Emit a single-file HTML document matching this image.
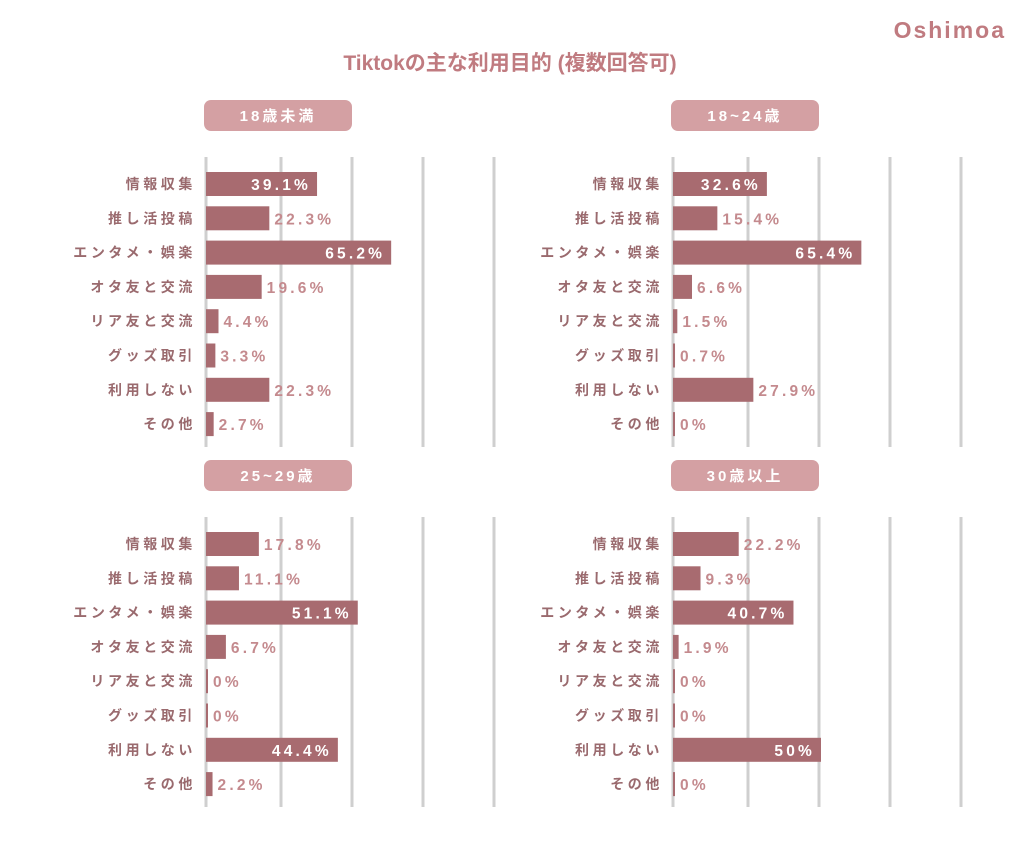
<!DOCTYPE html>
<html><head><meta charset="utf-8"><style>
body{margin:0;background:#fff;width:1024px;height:836px;overflow:hidden;font-family:"Liberation Sans","Noto Sans CJK JP",sans-serif}
</style></head><body>
<svg id="c" width="1024" height="836" xmlns="http://www.w3.org/2000/svg">
<text x="1006" y="38" text-anchor="end" font-size="23" font-weight="bold" fill="#c07b80" letter-spacing="2" font-family="Liberation Sans, sans-serif">Oshimoa</text>
<text x="510" y="70" text-anchor="middle" font-size="21" font-weight="bold" fill="#c07b80" font-family="Liberation Sans, Noto Sans CJK JP, sans-serif">Tiktokの主な利用目的 (複数回答可)</text>
</svg>
<script>
const categories=["情報収集","推し活投稿","エンタメ・娯楽","オタ友と交流","リア友と交流","グッズ取引","利用しない","その他"];
const panelTitles=["18歳未満","18~24歳","25~29歳","30歳以上"];
const values18u=[39.1,22.3,65.2,19.6,4.4,3.3,22.3,2.7];
const values1824=[32.6,15.4,65.4,6.6,1.5,0.7,27.9,0];
const values2529=[17.8,11.1,51.1,6.7,0,0,44.4,2.2];
const values30p=[22.2,9.3,40.7,1.9,0,0,50,0];
const valueLabels18u=["39.1%","22.3%","65.2%","19.6%","4.4%","3.3%","22.3%","2.7%"];
const valueLabels1824=["32.6%","15.4%","65.4%","6.6%","1.5%","0.7%","27.9%","0%"];
const valueLabels2529=["17.8%","11.1%","51.1%","6.7%","0%","0%","44.4%","2.2%"];
const valueLabels30p=["22.2%","9.3%","40.7%","1.9%","0%","0%","50%","0%"];
const gridTicks=[0,25,50,75,100];
const svg=document.getElementById('c');const NS='http://www.w3.org/2000/svg';
function mk(t,a){const e=document.createElementNS(NS,t);for(const k in a)e.setAttribute(k,a[k]);svg.appendChild(e);return e;}
const panels=[{ox:0,oy:0,v:values18u,l:valueLabels18u,s:2.84},{ox:467,oy:0,v:values1824,l:valueLabels1824,s:2.88},{ox:0,oy:360,v:values2529,l:valueLabels2529,s:2.97},{ox:467,oy:360,v:values30p,l:valueLabels30p,s:2.96}];
const gridX=[206,281,352,423,494];
panels.forEach((p,pi)=>{
  const x0=206+p.ox, y0=p.oy;
  const pill=mk('rect',{x:204+p.ox,y:100+y0,width:148,height:31,rx:7,fill:'#d4a0a3'});
  
  
  const pt=mk('text',{x:278+p.ox,y:121+y0,'text-anchor':'middle','font-size':15,'font-weight':'bold',fill:'#fff','letter-spacing':3});
  pt.textContent=panelTitles[pi];
  
  
  gridTicks.forEach((t,i)=>{
    const g=mk('line',{x1:gridX[i]+p.ox,x2:gridX[i]+p.ox,y1:157+y0,y2:447+y0,stroke:'#cfcfcf','stroke-width':3});
    
    
  });
  categories.forEach((c,i)=>{
    const cy=184+y0+i*34.3;
    const lab=mk('text',{x:196+p.ox,y:cy+5,'text-anchor':'end','font-size':14,'font-weight':'bold',fill:'#9a6a6e','letter-spacing':3.6});
    lab.textContent=c;
    
    
    const w=Math.max(p.v[i]*p.s,2);
    const b=mk('rect',{x:x0,y:cy-12,width:w,height:24,fill:'#a86b70'});
    
    
    const inside=p.v[i]>=30;
    const vt=mk('text',{x:inside?x0+w-6:x0+w+5,y:cy+6,'text-anchor':inside?'end':'start','font-size':15.5,'font-weight':'bold',fill:inside?'#fff':'#c48a8e','letter-spacing':3.2});
    vt.textContent=p.l[i];
    
    
  });
});
</script>
</body></html>
